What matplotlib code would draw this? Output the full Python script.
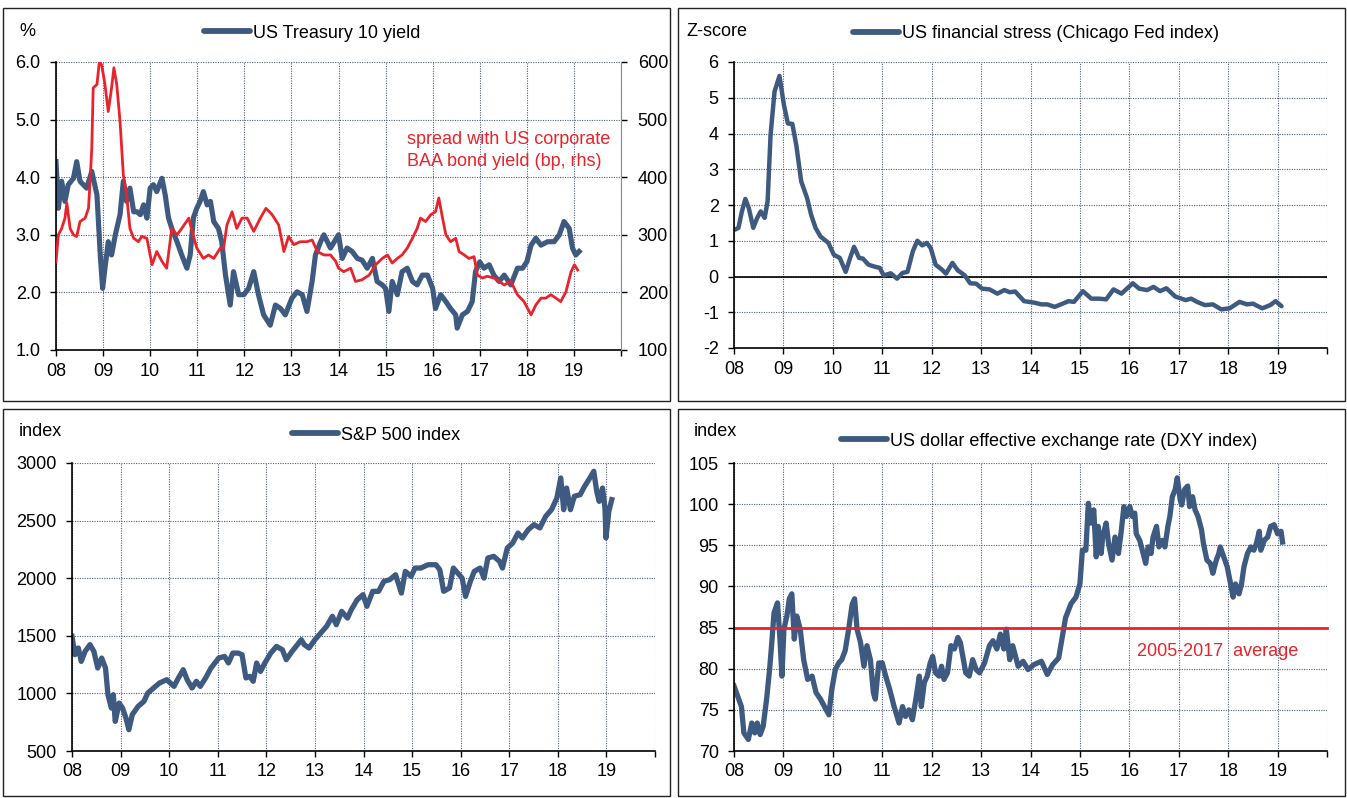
import matplotlib
matplotlib.use('Agg')
import matplotlib.pyplot as plt
from matplotlib.lines import Line2D
from matplotlib.patches import Rectangle

plt.rcParams['font.family'] = ['Liberation Sans', 'DejaVu Sans']

# ---------------- data (decimal years) ----------------
years = list(range(2008, 2021))
year_labels = ['08', '09', '10', '11', '12', '13', '14', '15', '16', '17', '18', '19', '']

ust_x = [2008.00, 2008.05, 2008.12, 2008.19, 2008.26, 2008.37, 2008.44, 2008.51, 2008.58, 2008.65,
         2008.76, 2008.87, 2008.94, 2008.99, 2009.04, 2009.11, 2009.18, 2009.26, 2009.36, 2009.43,
         2009.50, 2009.57, 2009.65, 2009.72, 2009.79, 2009.86, 2009.93, 2010.00, 2010.07, 2010.14,
         2010.25, 2010.32, 2010.39, 2010.46, 2010.57, 2010.67, 2010.78, 2010.85, 2010.92, 2010.99,
         2011.06, 2011.13, 2011.21, 2011.28, 2011.35, 2011.45, 2011.52, 2011.60, 2011.70, 2011.77,
         2011.88, 2011.99, 2012.09, 2012.20, 2012.30, 2012.41, 2012.55, 2012.66, 2012.77, 2012.87,
         2013.01, 2013.12, 2013.23, 2013.33, 2013.44, 2013.51, 2013.62, 2013.69, 2013.83,
         2014.00, 2014.08, 2014.18, 2014.29, 2014.40, 2014.50, 2014.61, 2014.72, 2014.82, 2014.93,
         2015.00, 2015.07, 2015.14, 2015.25, 2015.35, 2015.46, 2015.57, 2015.67, 2015.78, 2015.89,
         2016.00, 2016.06, 2016.17, 2016.28, 2016.38, 2016.49, 2016.52, 2016.63, 2016.74, 2016.84,
         2016.91, 2017.00, 2017.09, 2017.20, 2017.30, 2017.41, 2017.52, 2017.66, 2017.80, 2017.91,
         2018.00, 2018.09, 2018.19, 2018.30, 2018.44, 2018.58, 2018.69, 2018.79, 2018.90, 2018.97,
         2019.04, 2019.11]
ust_y = [4.27, 3.46, 3.93, 3.58, 3.87, 3.98, 4.27, 3.93, 3.87, 3.81,
         4.10, 3.69, 2.65, 2.07, 2.42, 2.88, 2.65, 3.00, 3.35, 3.93,
         3.58, 3.81, 3.40, 3.40, 3.35, 3.52, 3.29, 3.81, 3.87, 3.75,
         3.98, 3.69, 3.29, 3.11, 2.88, 2.65, 2.42, 2.65, 3.30, 3.46,
         3.58, 3.75, 3.52, 3.58, 3.23, 3.11, 2.88, 2.30, 1.78, 2.36,
         1.96, 1.96, 2.07, 2.36, 1.96, 1.61, 1.43, 1.78, 1.72, 1.61,
         1.90, 2.01, 1.96, 1.67, 2.19, 2.65, 2.88, 3.00, 2.77,
         3.00, 2.59, 2.77, 2.71, 2.59, 2.56, 2.42, 2.59, 2.19, 2.13,
         2.07, 1.67, 2.19, 1.96, 2.36, 2.42, 2.19, 2.13, 2.30, 2.30,
         2.07, 1.72, 1.96, 1.84, 1.72, 1.61, 1.38, 1.61, 1.67, 1.84,
         2.36, 2.53, 2.42, 2.48, 2.30, 2.19, 2.30, 2.13, 2.42, 2.42,
         2.53, 2.82, 2.94, 2.82, 2.88, 2.88, 3.00, 3.23, 3.11, 2.77,
         2.65, 2.71]

spread_x = [2008.00, 2008.05, 2008.12, 2008.19, 2008.23, 2008.30, 2008.37, 2008.44, 2008.51, 2008.62,
            2008.69, 2008.72, 2008.76, 2008.79, 2008.87, 2008.92, 2008.97, 2009.04, 2009.11, 2009.18,
            2009.23, 2009.29, 2009.36, 2009.43, 2009.50, 2009.57, 2009.65, 2009.75, 2009.82, 2009.93,
            2010.04, 2010.14, 2010.25, 2010.35, 2010.46, 2010.57, 2010.67, 2010.82, 2010.89, 2010.99,
            2011.13, 2011.24, 2011.35, 2011.49, 2011.56, 2011.63, 2011.74, 2011.84, 2011.95, 2012.06,
            2012.20, 2012.34, 2012.46, 2012.59, 2012.73, 2012.84, 2012.94, 2013.05, 2013.19, 2013.33,
            2013.44, 2013.55, 2013.69, 2013.83, 2013.94,
            2014.00, 2014.11, 2014.26, 2014.36, 2014.50, 2014.65, 2014.79, 2014.93, 2015.04, 2015.14,
            2015.25, 2015.35, 2015.46, 2015.57, 2015.67, 2015.74, 2015.85, 2015.96, 2016.06, 2016.13,
            2016.21, 2016.28, 2016.38, 2016.49, 2016.56, 2016.67, 2016.77, 2016.88, 2016.95, 2017.06,
            2017.16, 2017.30, 2017.41, 2017.52, 2017.66, 2017.80, 2017.94, 2018.09, 2018.19, 2018.30,
            2018.40, 2018.51, 2018.62, 2018.72, 2018.83, 2018.94, 2019.01, 2019.08]
spread_y = [253, 300, 311, 329, 355, 311, 300, 297, 323, 329,
            346, 387, 450, 555, 561, 600, 595, 561, 514, 555,
            590, 561, 497, 404, 369, 311, 294, 288, 297, 294,
            248, 271, 254, 242, 311, 300, 311, 329, 306, 277,
            259, 265, 259, 277, 277, 317, 340, 311, 329, 329,
            306, 329, 346, 335, 317, 271, 297, 283, 288, 288,
            291, 271, 265, 265, 254,
            242, 236, 242, 219, 222, 230, 248, 259, 265, 251,
            259, 265, 277, 294, 311, 329, 323, 335, 340, 364,
            329, 300, 288, 294, 271, 265, 259, 262, 230, 225,
            228, 225, 219, 213, 219, 196, 184, 161, 178, 190,
            190, 196, 190, 184, 201, 236, 248, 239]

stress_x = [2008.02, 2008.09, 2008.16, 2008.23, 2008.30, 2008.39, 2008.47, 2008.54, 2008.62, 2008.68,
            2008.74, 2008.82, 2008.92, 2009.01, 2009.09, 2009.18, 2009.26, 2009.36, 2009.48, 2009.56,
            2009.65, 2009.75, 2009.91, 2010.02, 2010.14, 2010.26, 2010.35, 2010.43, 2010.53, 2010.61,
            2010.72, 2010.86, 2010.95, 2011.03, 2011.17, 2011.30, 2011.41, 2011.51, 2011.62, 2011.71,
            2011.81, 2011.90, 2011.98, 2012.08, 2012.20, 2012.29, 2012.42, 2012.53, 2012.67, 2012.78,
            2012.90, 2013.02, 2013.17, 2013.33, 2013.47, 2013.58, 2013.69, 2013.87, 2014.07, 2014.22,
            2014.34, 2014.49, 2014.65, 2014.77, 2014.88, 2015.06, 2015.23, 2015.39, 2015.53, 2015.68,
            2015.84, 2016.07, 2016.20, 2016.36, 2016.49, 2016.62, 2016.75, 2016.93, 2017.14, 2017.25,
            2017.37, 2017.53, 2017.69, 2017.86, 2018.03, 2018.23, 2018.38, 2018.50, 2018.69, 2018.85,
            2018.96, 2019.08]
stress_y = [1.31, 1.36, 1.82, 2.17, 1.91, 1.36, 1.64, 1.82, 1.64, 2.10,
            3.96, 5.17, 5.61, 4.80, 4.28, 4.27, 3.68, 2.66, 2.19, 1.73,
            1.36, 1.12, 0.94, 0.61, 0.52, 0.13, 0.52, 0.83, 0.52, 0.50,
            0.33, 0.27, 0.24, 0.03, 0.09, -0.06, 0.10, 0.13, 0.71, 1.00,
            0.87, 0.94, 0.80, 0.33, 0.20, 0.08, 0.38, 0.17, 0.03, -0.19,
            -0.20, -0.34, -0.36, -0.48, -0.38, -0.44, -0.42, -0.69, -0.73, -0.78,
            -0.78, -0.85, -0.76, -0.69, -0.71, -0.41, -0.62, -0.62, -0.64, -0.36,
            -0.48, -0.19, -0.34, -0.38, -0.29, -0.41, -0.33, -0.56, -0.66, -0.62,
            -0.71, -0.80, -0.78, -0.92, -0.89, -0.71, -0.78, -0.76, -0.89, -0.80,
            -0.69, -0.83]

spx_x = [2008.00, 2008.06, 2008.13, 2008.19, 2008.27, 2008.37, 2008.45, 2008.53, 2008.61, 2008.69,
         2008.74, 2008.81, 2008.85, 2008.89, 2008.97, 2009.04, 2009.11, 2009.17, 2009.24, 2009.36,
         2009.48, 2009.56, 2009.68, 2009.80, 2009.95, 2010.10, 2010.19, 2010.29, 2010.37, 2010.47,
         2010.56, 2010.64, 2010.75, 2010.86, 2011.02, 2011.14, 2011.22, 2011.31, 2011.42, 2011.50,
         2011.58, 2011.66, 2011.73, 2011.80, 2011.88, 2011.97, 2012.09, 2012.21, 2012.33, 2012.41,
         2012.53, 2012.64, 2012.72, 2012.78, 2012.88, 2013.00, 2013.12, 2013.24, 2013.36, 2013.44,
         2013.55, 2013.67, 2013.75, 2013.87, 2013.99, 2014.07, 2014.19, 2014.31, 2014.42, 2014.54,
         2014.66, 2014.78, 2014.86, 2014.98, 2015.06, 2015.18, 2015.33, 2015.49, 2015.57, 2015.65,
         2015.77, 2015.85, 2015.97, 2016.03, 2016.10, 2016.20, 2016.28, 2016.40, 2016.48, 2016.56,
         2016.68, 2016.80, 2016.86, 2016.96, 2017.07, 2017.18, 2017.27, 2017.39, 2017.51, 2017.63,
         2017.75, 2017.87, 2017.98, 2018.06, 2018.12, 2018.18, 2018.26, 2018.34, 2018.46, 2018.55,
         2018.66, 2018.74, 2018.80, 2018.85, 2018.92, 2018.97, 2018.99, 2019.05, 2019.11]
spx_y = [1495, 1336, 1394, 1278, 1365, 1423, 1365, 1220, 1307, 1220,
         989, 873, 989, 757, 916, 873, 786, 685, 815, 887,
         931, 1003, 1047, 1090, 1119, 1061, 1134, 1206, 1119, 1047,
         1105, 1061, 1134, 1220, 1307, 1321, 1264, 1350, 1350, 1336,
         1134, 1148, 1105, 1264, 1191, 1264, 1350, 1408, 1379, 1293,
         1365, 1423, 1466, 1423, 1394, 1466, 1524, 1582, 1669, 1596,
         1712, 1654, 1727, 1813, 1857, 1756, 1886, 1886, 1973, 1987,
         2030, 1871, 2059, 2016, 2088, 2088, 2117, 2117, 2074, 1886,
         1915, 2088, 2030, 2001, 1842, 1973, 2059, 2088, 2001, 2175,
         2190, 2146, 2088, 2262, 2305, 2392, 2349, 2421, 2465, 2436,
         2537, 2595, 2696, 2870, 2595, 2783, 2595, 2711, 2725, 2797,
         2870, 2928, 2754, 2667, 2783, 2609, 2349, 2580, 2682]

dxy_x = [2008.00, 2008.06, 2008.15, 2008.20, 2008.29, 2008.36, 2008.42, 2008.47, 2008.53, 2008.59,
         2008.66, 2008.72, 2008.76, 2008.81, 2008.88, 2008.93, 2008.97, 2009.01, 2009.07, 2009.12,
         2009.17, 2009.22, 2009.27, 2009.34, 2009.41, 2009.49, 2009.58, 2009.66, 2009.75, 2009.83,
         2009.92, 2009.98, 2010.05, 2010.12, 2010.18, 2010.25, 2010.32, 2010.39, 2010.44, 2010.49,
         2010.56, 2010.63, 2010.69, 2010.76, 2010.82, 2010.86, 2010.93, 2011.00, 2011.07, 2011.15,
         2011.24, 2011.34, 2011.41, 2011.47, 2011.54, 2011.61, 2011.68, 2011.75, 2011.79, 2011.85,
         2011.91, 2011.97, 2012.02, 2012.08, 2012.15, 2012.20, 2012.25, 2012.32, 2012.39, 2012.46,
         2012.53, 2012.58, 2012.63, 2012.69, 2012.76, 2012.83, 2012.90, 2012.97, 2013.07, 2013.17,
         2013.24, 2013.32, 2013.39, 2013.46, 2013.51, 2013.58, 2013.64, 2013.75, 2013.85, 2013.95,
         2014.07, 2014.22, 2014.34, 2014.45, 2014.57, 2014.65, 2014.71, 2014.82, 2014.92, 2015.00,
         2015.05, 2015.12, 2015.17, 2015.22, 2015.28, 2015.33, 2015.37, 2015.43, 2015.46, 2015.53,
         2015.58, 2015.65, 2015.71, 2015.78, 2015.84, 2015.89, 2015.94, 2016.01, 2016.06, 2016.11,
         2016.14, 2016.21, 2016.28, 2016.33, 2016.38, 2016.44, 2016.48, 2016.55, 2016.60, 2016.67,
         2016.72, 2016.78, 2016.82, 2016.87, 2016.93, 2016.97, 2017.03, 2017.06, 2017.12, 2017.18,
         2017.22, 2017.28, 2017.33, 2017.39, 2017.46, 2017.50, 2017.57, 2017.64, 2017.69, 2017.76,
         2017.81, 2017.84, 2017.91, 2017.98, 2018.05, 2018.10, 2018.15, 2018.22, 2018.27, 2018.32,
         2018.39, 2018.46, 2018.52, 2018.57, 2018.63, 2018.66, 2018.73, 2018.80, 2018.86, 2018.93,
         2019.00, 2019.07, 2019.10]
dxy_y = [77.9, 76.9, 75.4, 72.2, 71.4, 73.4, 72.2, 73.4, 72.0, 73.0,
         76.3, 79.9, 82.8, 86.8, 88.0, 83.6, 79.1, 84.8, 86.4, 88.5,
         89.1, 83.6, 86.4, 84.8, 81.1, 78.7, 79.1, 77.1, 76.3, 75.4,
         74.4, 77.5, 79.9, 80.7, 81.1, 82.2, 84.8, 87.8, 88.5, 84.8,
         83.2, 80.3, 82.8, 81.1, 77.1, 76.3, 80.7, 80.7, 79.1, 77.5,
         75.4, 73.4, 75.4, 74.2, 75.0, 73.8, 76.3, 79.1, 75.4, 78.3,
         79.1, 80.7, 81.5, 79.5, 79.1, 80.3, 78.7, 79.5, 82.8, 82.4,
         83.8, 83.2, 81.5, 79.5, 79.1, 81.1, 79.9, 79.5, 80.7, 82.8,
         83.4, 82.4, 84.2, 82.4, 84.8, 81.1, 82.8, 80.3, 80.9, 79.9,
         80.5, 80.9, 79.3, 80.5, 81.3, 84.1, 86.2, 87.9, 88.7, 90.3,
         94.4, 94.4, 100.1, 97.7, 99.3, 93.6, 97.3, 94.0, 96.0, 97.7,
         95.2, 93.2, 96.0, 94.0, 96.9, 99.7, 98.5, 99.7, 98.5, 98.9,
         96.4, 95.6, 94.0, 92.8, 94.8, 94.0, 96.0, 97.3, 94.8, 95.6,
         94.8, 97.3, 98.5, 100.9, 101.8, 103.2, 100.5, 99.9, 101.8, 102.2,
         99.7, 100.9, 99.3, 98.5, 96.9, 95.2, 93.2, 92.8, 91.6, 93.2,
         94.0, 94.8, 93.6, 92.4, 90.3, 88.7, 90.3, 89.1, 90.3, 92.4,
         94.0, 94.8, 94.4, 95.2, 96.7, 94.4, 95.6, 96.0, 97.3, 97.5,
         96.4, 96.7, 95.4]
dxy_avg = 85.0

# ---------------- layout ----------------
W, H = 1347, 798
fig = plt.figure(figsize=(W / 100, H / 100), dpi=100)

BLUE = '#3E5A80'
RED = '#E8232B'
GRID = '#4F5F80'
FS = 13


def fx(px):
    return px / W


def fy(py):
    return 1 - py / H


def add_ax(l, r, t, b):
    return fig.add_axes([l / W, 1 - b / H, (r - l) / W, (b - t) / H])


def style(ax, ylim, yticks, fmt):
    ax.set_xlim(2008, 2020)
    ax.set_xticks(years)
    ax.set_xticklabels(year_labels)
    ax.set_ylim(*ylim)
    ax.set_yticks(yticks)
    ax.set_yticklabels([fmt.format(v) for v in yticks])
    ax.grid(True, color=GRID, linestyle=(0, (1, 1.2)), linewidth=0.8)
    ax.set_axisbelow(True)
    for s in ['top', 'right']:
        ax.spines[s].set_visible(False)
    for s in ['left', 'bottom']:
        ax.spines[s].set_linewidth(1.2)
    ax.tick_params(direction='out', length=4, width=1, labelsize=FS, colors='black')
    ax.tick_params(axis='y', pad=7)
    ax.tick_params(axis='x', pad=5)


def legend(ax, handle_label, x, y):
    h = Line2D([], [], color=BLUE, linewidth=4.2, solid_capstyle='round')
    ax.legend([h], [handle_label], loc='center left', bbox_to_anchor=(fx(x), fy(y)),
              bbox_transform=fig.transFigure, frameon=False, fontsize=FS,
              handlelength=2.55, handletextpad=0.15, borderpad=0, borderaxespad=0)


# panel frames
for (l, t, r, b) in [(3, 8, 670, 401), (678, 8, 1345, 401), (3, 409, 670, 796), (678, 409, 1345, 796)]:
    fig.patches.append(Rectangle((fx(l), fy(b)), (r - l) / W, (b - t) / H, transform=fig.transFigure,
                                 fill=False, edgecolor='#222222', linewidth=1.0))

# --- top-left: US Treasury 10y + spread ---
ax1 = add_ax(56, 621, 62, 350)
style(ax1, (1, 6), [1, 2, 3, 4, 5, 6], '{:.1f}')
ax1.plot(ust_x, ust_y, color=BLUE, linewidth=3.7, solid_joinstyle='round')
ax1r = ax1.twinx()
ax1r.set_ylim(100, 600)
ax1r.set_yticks([100, 200, 300, 400, 500, 600])
ax1r.set_yticklabels(['100', '200', '300', '400', '500', '600'])
for s in ['top', 'left', 'bottom']:
    ax1r.spines[s].set_visible(False)
ax1r.spines['right'].set_color('#888888')
ax1r.spines['right'].set_linewidth(0.8)
ax1r.tick_params(direction='out', length=4, width=1, labelsize=FS, pad=8)
ax1r.plot(spread_x, spread_y, color=RED, linewidth=2.0, solid_joinstyle='round')
legend(ax1r, 'US Treasury 10 yield', 204, 33)
fig.text(fx(19), fy(31), '%', fontsize=FS, va='center', ha='left')
fig.text(fx(407), fy(140), 'spread with US corporate', fontsize=FS, color=RED, va='center', ha='left')
fig.text(fx(407), fy(161), 'BAA bond yield (bp, rhs)', fontsize=FS, color=RED, va='center', ha='left')

# --- top-right: financial stress ---
ax2 = add_ax(734, 1327, 62, 348)
style(ax2, (-2, 6), [-2, -1, 0, 1, 2, 3, 4, 5, 6], '{:d}')
ax2.axhline(0, color='black', linewidth=1.2, zorder=1.5)
ax2.plot(stress_x, stress_y, color=BLUE, linewidth=3.2, solid_joinstyle='round', solid_capstyle='round')
legend(ax2, 'US financial stress (Chicago Fed index)', 853, 34)
fig.text(fx(686), fy(31), 'Z-score', fontsize=FS, va='center', ha='left')

# --- bottom-left: S&P 500 ---
ax3 = add_ax(72, 655, 463, 751)
style(ax3, (500, 3000), [500, 1000, 1500, 2000, 2500, 3000], '{:d}')
ax3.plot(spx_x, spx_y, color=BLUE, linewidth=3.8, solid_joinstyle='round')
legend(ax3, 'S&P 500 index', 292, 435)
fig.text(fx(19), fy(432), 'index', fontsize=FS, va='center', ha='left')

# --- bottom-right: DXY ---
ax4 = add_ax(734, 1327, 463, 751)
style(ax4, (70, 105), [70, 75, 80, 85, 90, 95, 100, 105], '{:d}')
ax4.plot(dxy_x, dxy_y, color=BLUE, linewidth=3.8, solid_joinstyle='round')
ax4.plot([2008, 2020], [dxy_avg, dxy_avg], color=RED, linewidth=2.0, clip_on=False)
legend(ax4, 'US dollar effective exchange rate (DXY index)', 841, 441)
fig.text(fx(694), fy(432), 'index', fontsize=FS, va='center', ha='left')
fig.text(fx(1137), fy(652), '2005-2017  average', fontsize=FS, color=RED, va='center', ha='left')

fig.savefig('out.png', dpi=100)
